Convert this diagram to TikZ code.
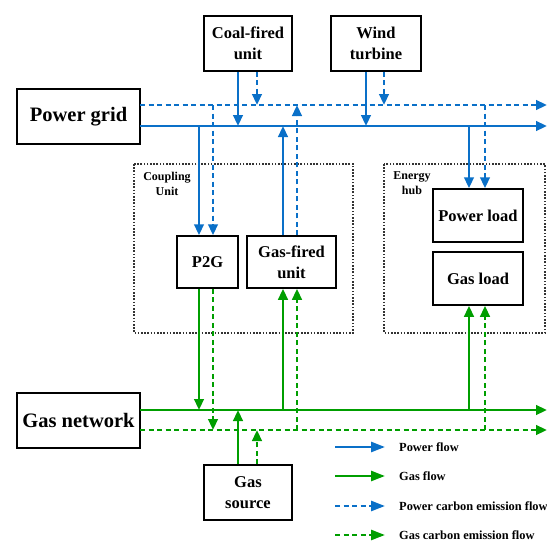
\documentclass[tikz,border=0pt]{standalone}
\usepackage{fontspec}
\setmainfont{Liberation Serif}
\usetikzlibrary{arrows.meta}
\definecolor{pblue}{RGB}{10,112,200}
\definecolor{ggreen}{RGB}{0,158,0}
\tikzset{
  box/.style={draw=black,line width=1.5pt,fill=white,align=center,inner sep=0pt,font=\fontsize{16.5}{21}\selectfont\bfseries},
  bigbox/.style={box,font=\fontsize{20.5}{24}\selectfont\bfseries},
  region/.style={draw=black!80,line width=1.2pt,dash pattern=on 1.6pt off 1.6pt},
  regionlabel/.style={align=center,font=\fontsize{12}{15}\selectfont\bfseries,inner sep=0pt},
  tip/.style={-{Triangle[length=11pt,width=9.5pt]}},
  pf/.style={pblue,line width=2.6pt},
  gf/.style={ggreen,line width=2.6pt},
  pc/.style={pblue,line width=2.6pt,dash pattern=on 5pt off 3.5pt},
  gc/.style={ggreen,line width=2.6pt,dash pattern=on 5pt off 3.5pt},
  legtip/.style={-{Triangle[length=14pt,width=10pt]}},
  legtext/.style={anchor=west,inner sep=0pt,font=\fontsize{12.4}{14}\selectfont\bfseries},
}
\begin{document}
\begin{tikzpicture}[x=1pt,y=-1pt]
\useasboundingbox (0,0) rectangle (547,541);
\fill[white] (0,0) rectangle (547,541);

% regions
\draw[region] (134,164) rectangle (353,333);
\draw[region] (384,164) rectangle (545,333);
\node[regionlabel] (cul) at (167,183.5) {Coupling\\Unit};
\node[regionlabel] (ehl) at (412,183.5) {Energy\\hub};

% boxes
\node[bigbox,minimum width=123pt,minimum height=55pt] (pg) at (78.5,116.5) {Power grid};
\node[bigbox,minimum width=123pt,minimum height=55pt] (gn) at (78.5,420.5) {Gas network};
\node[box,minimum width=88pt,minimum height=55pt] (coal) at (248,43.5) {Coal-fired\\unit};
\node[box,minimum width=90pt,minimum height=55pt] (wind) at (376,43.5) {Wind\\turbine};
\node[box,minimum width=61pt,minimum height=52pt] (p2g) at (207.5,262) {P2G};
\node[box,minimum width=89pt,minimum height=52pt] (gfu) at (291.5,262) {Gas-fired\\unit};
\node[box,minimum width=90pt,minimum height=53pt] (pl) at (478,215.5) {Power load};
\node[box,minimum width=90pt,minimum height=53pt] (gl) at (478,278.5) {Gas load};
\node[box,minimum width=88pt,minimum height=55pt] (gs) at (248,492.5) {Gas\\source};

% bus coordinates
\coordinate (pcS) at (140,105);
\coordinate (pcE) at (547,105);
\coordinate (pfS) at (140,126);
\coordinate (pfE) at (547,126);
\coordinate (gfS) at (140,410);
\coordinate (gfE) at (547,410);
\coordinate (gcS) at (140,430);
\coordinate (gcE) at (547,430);

% buses
\draw[pc,tip] (pcS) -- (pcE);
\draw[pf,tip] (pfS) -- (pfE);
\draw[gc,tip] (gcS) -- (gcE);
\draw[gf,tip] (gfS) -- (gfE);

% coal and wind
\draw[pf,tip] ([xshift=-10pt]coal.south) -- ([xshift=-10pt]coal.south |- pfS);
\draw[pc,tip] ([xshift=9pt]coal.south) -- ([xshift=9pt]coal.south |- pcS);
\draw[pf,tip] ([xshift=-10pt]wind.south) -- ([xshift=-10pt]wind.south |- pfS);
\draw[pc,tip] ([xshift=8pt]wind.south) -- ([xshift=8pt]wind.south |- pcS);

% P2G
\draw[pf,tip] ([xshift=-8.5pt]p2g.north |- pfS) -- ([xshift=-8.5pt]p2g.north);
\draw[pc,tip] ([xshift=5.5pt]p2g.north |- pcS) -- ([xshift=5.5pt]p2g.north);
\draw[gf,tip] ([xshift=-8.5pt]p2g.south) -- ([xshift=-8.5pt]p2g.south |- gfS);
\draw[gc,tip] ([xshift=5.5pt]p2g.south) -- ([xshift=5.5pt]p2g.south |- gcS);

% gas-fired unit
\draw[pf,tip] ([xshift=-8.5pt]gfu.north) -- ([xshift=-8.5pt]gfu.north |- pfS);
\draw[pc,tip] ([xshift=5.5pt]gfu.north) -- ([xshift=5.5pt]gfu.north |- pcS);
\draw[gf,tip] ([xshift=-8.5pt]gfu.south |- gfS) -- ([xshift=-8.5pt]gfu.south);
\draw[gc,tip] ([xshift=5.5pt]gfu.south |- gcS) -- ([xshift=5.5pt]gfu.south);

% loads
\draw[pf,tip] ([xshift=-9pt]pl.north |- pfS) -- ([xshift=-9pt]pl.north);
\draw[pc,tip] ([xshift=7pt]pl.north |- pcS) -- ([xshift=7pt]pl.north);
\draw[gf,tip] ([xshift=-9pt]gl.south |- gfS) -- ([xshift=-9pt]gl.south);
\draw[gc,tip] ([xshift=7pt]gl.south |- gcS) -- ([xshift=7pt]gl.south);

% gas source
\draw[gf,tip] ([xshift=-10pt]gs.north) -- ([xshift=-10pt]gs.north |- gfS);
\draw[gc,tip] ([xshift=9pt]gs.north) -- ([xshift=9pt]gs.north |- gcS);

% legend
\coordinate (l1a) at (335,447); \coordinate (l1b) at (385,447);
\coordinate (l2a) at (335,476); \coordinate (l2b) at (385,476);
\coordinate (l3a) at (335,506); \coordinate (l3b) at (385,506);
\coordinate (l4a) at (335,535); \coordinate (l4b) at (385,535);
\draw[pf,legtip] (l1a) -- (l1b);
\draw[gf,legtip] (l2a) -- (l2b);
\draw[pc,legtip] (l3a) -- (l3b);
\draw[gc,legtip] (l4a) -- (l4b);
\node[legtext] (t1) at (399,447) {Power flow};
\node[legtext] (t2) at (399,476) {Gas flow};
\node[legtext] (t3) at (399,506) {Power carbon emission flow};
\node[legtext] (t4) at (399,535) {Gas carbon emission flow};
\end{tikzpicture}
\end{document}
